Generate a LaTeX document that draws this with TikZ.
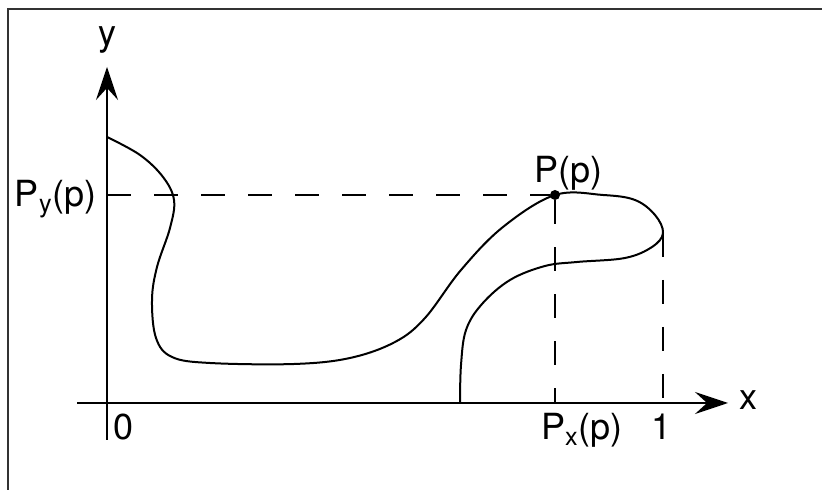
\documentclass[tikz,border=0pt]{standalone}
\usepackage{fontspec}
\setmainfont{TeX Gyre Heros}
\usetikzlibrary{arrows.meta,calc}

\begin{document}
\begin{tikzpicture}[x=0.5pt, y=0.5pt, font=\fontsize{18}{21}\selectfont,
    axis/.style={line width=1.1pt, -{Stealth[length=16.5pt, width=11pt, inset=6pt]}},
    guide/.style={line width=1pt, dash pattern=on 12pt off 11.5pt},
    curve/.style={line width=1pt},
    lbl/.style={inner sep=0pt, anchor=base}]
  \useasboundingbox (0,0) rectangle (822,490);
  \draw[line width=1.4pt, black!80] (8,0) -- (8,481) -- (822,481);

  % axes
  \coordinate (o) at (107,87);
  \coordinate (xs) at (77,87);
  \coordinate (xe) at (728,87);
  \coordinate (ys) at (107,50);
  \coordinate (ye) at (107,423);
  \draw[axis] (xs) -- (xe);
  \draw[axis] (ys) -- (ye);

  \node[circle, fill, inner sep=0pt, minimum size=5pt] (p) at (555,295) {};
  \coordinate (r) at (663,257);

  \draw[guide] (o |- p) -- (p);
  \draw[guide] (p) -- (p |- o);
  \draw[guide] (r) -- (r |- o);

  % the curve
  \draw[curve] plot[smooth, tension=0.6] coordinates {
    (107,353) (140,335) (163,313) (174,290) (170,262) (157,223)
    (152,190) (156,152) (172,133) (210,127) (294,126) (350,132)
    (395,148) (425,172) (461,220) (503,263) (555,295) (603,295)
    (635,290) (655,275) (663,257) (652,243) (625,232) (577,228)
    (545,224) (510,210) (482,186) (466,160) (461,125) (460,87)};

  \node[lbl] (ylbl) at (107,444) {y};
  \node[lbl] (xlbl) at (748,80) {x};
  \node[lbl] (zero) at (124,50) {0};
  \node[lbl] (one) at (661,50) {1};
  \node[lbl] (pxlbl) at (582,50) {P\textsubscript{x}(p)};
  \node[lbl, anchor=base east] (pylbl) at (97,283) {P\textsubscript{y}(p)};
  \node[lbl] (plbl) at (568,307) {P(p)};
\end{tikzpicture}
\end{document}
